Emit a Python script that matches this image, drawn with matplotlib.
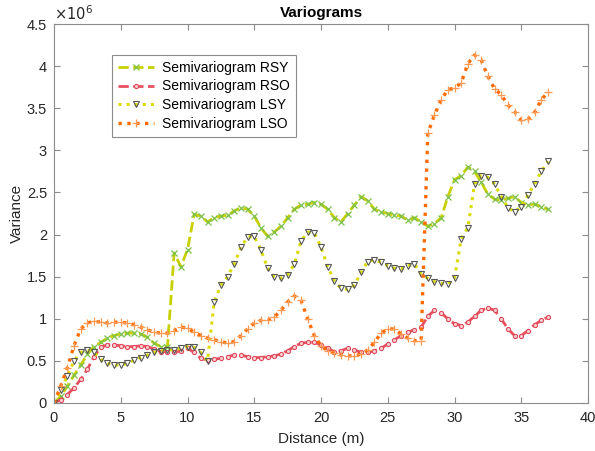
import matplotlib
matplotlib.use("Agg")
import matplotlib.pyplot as plt
import numpy as np
from matplotlib.ticker import FuncFormatter, MultipleLocator

plt.rcParams['font.family'] = ['Liberation Sans', 'DejaVu Sans']

# distance (m)
distance = [i * 0.5 for i in range(75)]

# variance values in units of 1e6
rsy = [0, 0.08, 0.2, 0.33, 0.45, 0.58, 0.67, 0.72, 0.77, 0.8,
       0.82, 0.83, 0.83, 0.82, 0.78, 0.71, 0.67, 0.67, 1.78, 1.62,
       1.82, 2.24, 2.22, 2.15, 2.2, 2.22, 2.23, 2.28, 2.32, 2.3,
       2.22, 2.08, 1.98, 2.03, 2.1, 2.2, 2.3, 2.35, 2.36, 2.38,
       2.36, 2.3, 2.2, 2.15, 2.25, 2.35, 2.45, 2.4, 2.3, 2.27,
       2.25, 2.23, 2.22, 2.17, 2.2, 2.15, 2.1, 2.13, 2.2, 2.45,
       2.65, 2.7, 2.8, 2.75, 2.62, 2.48, 2.42, 2.41, 2.43, 2.45,
       2.38, 2.35, 2.36, 2.33, 2.3]
rso = [0, 0.04, 0.1, 0.18, 0.28, 0.4, 0.55, 0.66, 0.69, 0.69,
       0.68, 0.67, 0.67, 0.68, 0.67, 0.64, 0.61, 0.61, 0.6, 0.62,
       0.65, 0.6, 0.53, 0.51, 0.52, 0.53, 0.55, 0.57, 0.57, 0.55,
       0.54, 0.54, 0.55, 0.56, 0.58, 0.62, 0.67, 0.71, 0.72, 0.72,
       0.69, 0.65, 0.61, 0.62, 0.65, 0.63, 0.6, 0.6, 0.62, 0.65,
       0.7, 0.75, 0.8, 0.84, 0.87, 0.9, 1.03, 1.1, 1.07, 1.0,
       0.94, 0.92, 0.96, 1.03, 1.1, 1.13, 1.1, 1.0, 0.88, 0.8,
       0.8, 0.86, 0.93, 0.98, 1.02]
lsy = [0, 0.15, 0.32, 0.5, 0.6, 0.63, 0.6, 0.52, 0.47, 0.45,
       0.45, 0.47, 0.51, 0.54, 0.57, 0.6, 0.62, 0.63, 0.63, 0.65,
       0.67, 0.66, 0.6, 0.5, 1.2, 1.4, 1.5, 1.65, 1.85, 1.97,
       1.98, 1.82, 1.6, 1.5, 1.48, 1.52, 1.65, 1.92, 2.03, 2.02,
       1.85, 1.62, 1.45, 1.36, 1.35, 1.4, 1.55, 1.68, 1.7, 1.67,
       1.63, 1.6, 1.59, 1.63, 1.65, 1.53, 1.48, 1.44, 1.42, 1.41,
       1.48, 1.95, 2.08, 2.6, 2.7, 2.68, 2.6, 2.45, 2.32, 2.27,
       2.33, 2.47, 2.6, 2.75, 2.87]
lso = [0, 0.2, 0.42, 0.68, 0.88, 0.95, 0.97, 0.96, 0.95, 0.96,
       0.96, 0.95, 0.93, 0.9, 0.87, 0.84, 0.83, 0.83, 0.86, 0.9,
       0.89, 0.84, 0.8, 0.77, 0.75, 0.73, 0.71, 0.73, 0.8, 0.88,
       0.95, 0.98, 0.98, 1.02, 1.1, 1.2, 1.27, 1.22, 1.0, 0.8,
       0.68, 0.62, 0.59, 0.57, 0.56, 0.56, 0.58, 0.63, 0.72, 0.83,
       0.88, 0.88, 0.82, 0.77, 0.74, 0.74, 3.2, 3.42, 3.6, 3.72,
       3.74, 3.8, 4.03, 4.13, 4.07, 3.88, 3.73, 3.66, 3.54, 3.46,
       3.36, 3.37, 3.45, 3.6, 3.69]

labels = ['Semivariogram RSY', 'Semivariogram RSO',
          'Semivariogram LSY', 'Semivariogram LSO']

fig = plt.figure(figsize=(5.95, 4.51), dpi=100)
ax = fig.add_axes([54/595, 48/451, 534/595, 379/451])

x = np.array(distance)
ax.plot(x, np.array(rsy) * 1e6, linestyle='--', color='#c8d000', linewidth=2.0,
        marker='x', markersize=4, markeredgecolor='#7cc04a', markeredgewidth=0.9,
        label=labels[0])
ax.plot(x, np.array(rso) * 1e6, linestyle='--', color='#e8505e', linewidth=2.0,
        marker='o', markersize=3, markeredgecolor='#e04a5a', markerfacecolor='#f8d0d6',
        markeredgewidth=0.8, label=labels[1])
ax.plot(x, np.array(lsy) * 1e6, linestyle=':', color='#d8dc00', linewidth=2.2,
        marker='v', markersize=4, markeredgecolor='#555555', markerfacecolor='none',
        markeredgewidth=0.8, label=labels[2])
ax.plot(x, np.array(lso) * 1e6, linestyle=':', color='#ff6a00', linewidth=2.4,
        marker='+', markersize=5.5, markeredgecolor='#ff9a55', markeredgewidth=0.9,
        label=labels[3])

ax.set_xlim(0, 40)
ax.set_ylim(0, 4.5e6)
ax.xaxis.set_major_locator(MultipleLocator(5))
ax.yaxis.set_major_locator(MultipleLocator(0.5e6))
ax.yaxis.set_major_formatter(FuncFormatter(lambda v, p: '%g' % (v / 1e6)))

for s in ax.spines.values():
    s.set_color('#8c8c8c')
    s.set_linewidth(0.8)
ax.tick_params(direction='in', top=True, right=True, length=4, width=0.8,
               color='#8c8c8c', labelcolor='#262626', labelsize=10.5)
ax.tick_params(axis='x', pad=6)
ax.tick_params(axis='y', pad=5)

ax.set_xlabel('Distance (m)', fontsize=11, color='#262626', labelpad=5)
ax.set_ylabel('Variance', fontsize=11, color='#262626', labelpad=2)
ax.set_title('Variograms', fontsize=11, fontweight='bold', color='#000000', pad=5)
ax.text(0.0, 1.003, r'$\times10^{6}$', transform=ax.transAxes, fontsize=10.5,
        color='#262626', ha='left', va='bottom')

leg = ax.legend(loc='upper left', bbox_to_anchor=(0.109, 0.918), borderaxespad=0,
                fontsize=10, fancybox=False, framealpha=1, edgecolor='#8c8c8c',
                handlelength=2.6, labelspacing=0.35, handletextpad=0.6,
                borderpad=0.4)
leg.get_frame().set_linewidth(0.8)

fig.savefig('out.png', dpi=100)
